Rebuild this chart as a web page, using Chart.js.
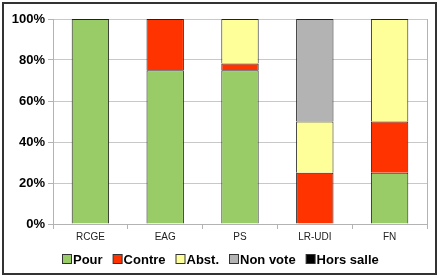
<!DOCTYPE html>
<html><head><meta charset="utf-8">
<script src="https://cdn.jsdelivr.net/npm/chart.js@4/dist/chart.umd.min.js"></script>
<style>html,body{margin:0;padding:0;background:#fff}canvas{display:block}</style>
</head><body>
<canvas id="c" width="440" height="278"></canvas>
<script>
const categories = ["RCGE", "EAG", "PS", "LR-UDI", "FN"];
const pour     = [100, 75, 75, 0, 25];
const contre   = [0, 25, 3.3, 25, 25];
const abst     = [0, 0, 21.7, 25, 50];
const nonVote  = [0, 0, 0, 50, 0];
const horsSalle= [0, 0, 0, 0, 0];
const yTicks = [0, 20, 40, 60, 80, 100];

const framePlugin = {
  id: 'frame',
  beforeDraw(chart) {
    const ctx = chart.ctx;
    ctx.save();
    ctx.fillStyle = '#fff';
    ctx.fillRect(0, 0, chart.width, chart.height);
    ctx.restore();
  },
  afterDraw(chart) {
    const ctx = chart.ctx, a = chart.chartArea;
    ctx.save();
    ctx.strokeStyle = '#b3b3b3';
    ctx.lineWidth = 1;
    ctx.beginPath();
    ctx.moveTo(Math.round(a.right) + 0.5, a.top);
    ctx.lineTo(Math.round(a.right) + 0.5, a.bottom);
    ctx.stroke();
    // custom legend
    const font = 'bold 13px "Liberation Sans"';
    ctx.font = font;
    const items = chart.data.datasets.map(d => ({ label: d.label, color: d.backgroundColor, w: 9 + 2 + ctx.measureText(d.label).width }));
    const gapItems = 10;
    const total = items.reduce((s, it) => s + it.w, 0) + gapItems * (items.length - 1);
    let x = Math.round((chart.width - total) / 2);
    const boxTop = 254.5;
    ctx.textBaseline = 'alphabetic';
    ctx.textAlign = 'left';
    items.forEach(it => {
      ctx.fillStyle = it.color;
      ctx.fillRect(x + 0.5, boxTop, 9, 9);
      ctx.strokeStyle = '#333';
      ctx.lineWidth = 1;
      ctx.strokeRect(x + 0.5, boxTop, 9, 9);
      ctx.fillStyle = '#000';
      ctx.fillText(it.label, x + 11, 263.5);
      x += it.w + gapItems;
    });
    ctx.strokeStyle = '#333';
    ctx.lineWidth = 2;
    ctx.strokeRect(3, 3, 433, 271);
    ctx.restore();
  }
};

const mk = (label, data, color) => ({
  label, data, backgroundColor: color, borderColor: '#222', borderWidth: 1,
  categoryPercentage: 1.0, barPercentage: 0.5
});

new Chart(document.getElementById('c'), {
  type: 'bar',
  data: {
    labels: categories,
    datasets: [
      mk('Pour', pour, '#99cc66'),
      mk('Contre', contre, '#ff3300'),
      mk('Abst.', abst, '#ffff99'),
      mk('Non vote', nonVote, '#b3b3b3'),
      mk('Hors salle', horsSalle, '#000000')
    ]
  },
  options: {
    responsive: false,
    animation: false,
    layout: { padding: { left: 0, right: 13, top: 19, bottom: 36 } },
    plugins: {
      legend: { display: false },
      tooltip: { enabled: false }
    },
    scales: {
      x: {
        stacked: true,
        grid: { offset: true, drawOnChartArea: false, drawTicks: true, tickLength: 5, color: '#b3b3b3' },
        border: { color: '#b3b3b3' },
        ticks: { color: '#222', padding: 2, font: { family: 'Liberation Sans', size: 10 } },
        afterFit(s) { s.height = 18; }
      },
      y: {
        stacked: true, min: 0, max: 100,
        afterBuildTicks(s) { s.ticks = yTicks.map(v => ({ value: v })); },
        grid: { color: '#c8c8c8', tickLength: 5, tickColor: '#b3b3b3' },
        border: { color: '#b3b3b3' },
        ticks: { color: '#000', padding: 3, font: { family: 'Liberation Sans', size: 13, weight: 'bold' },
                 callback: v => v + '%' },
        afterFit(s) { s.width = 53; }
      }
    }
  },
  plugins: [framePlugin]
});
</script>
</body></html>
